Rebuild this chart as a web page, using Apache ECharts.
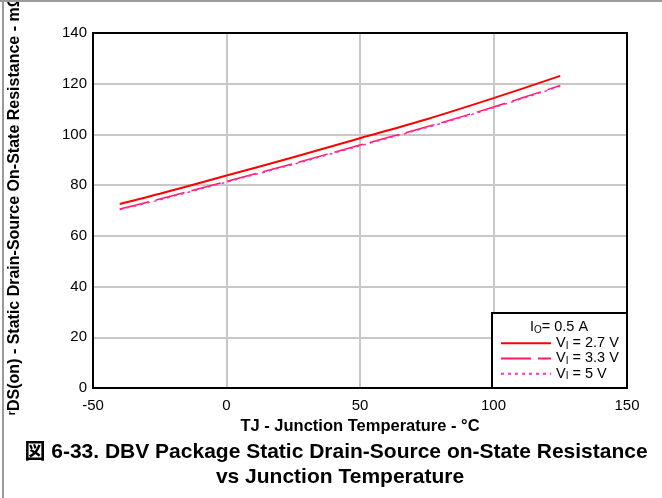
<!DOCTYPE html>
<html>
<head>
<meta charset="utf-8">
<script src="https://cdn.jsdelivr.net/npm/echarts@6/dist/echarts.min.js"></script>
<style>
html,body{margin:0;padding:0;background:#fff;}
#chart{width:662px;height:498px;}
</style>
</head>
<body>
<div id="chart"></div>
<script>
// Data
const temps = [-40, -25, 0, 25, 50, 75, 100, 125];
const vi27 = [72.6, 76.6, 83.8, 91.0, 98.5, 106.0, 114.3, 123.1];
const vi33 = [70.6, 74.5, 81.5, 88.5, 95.8, 103.0, 110.8, 119.3];
const vi5  = [70.3, 74.2, 81.2, 88.2, 95.5, 102.7, 110.5, 119.0];
const seriesNames = ['VI = 2.7 V', 'VI = 3.3 V', 'VI = 5 V'];
const xTicks = [-50, 0, 50, 100, 150];
const yTicks = [0, 20, 40, 60, 80, 100, 120, 140];

const FONT = '"Liberation Sans", Arial, "Noto Sans CJK JP", sans-serif';
const pairs = (ys) => temps.map((t, i) => [t, ys[i]]);

const chart = echarts.init(document.getElementById('chart'), null, {renderer: 'canvas'});

const legendRich = {
  n: {fontSize: 14.5, fontFamily: FONT, color: '#000'},
  s: {fontSize: 10, fontFamily: FONT, color: '#000', padding: [6, 0, 0, 0]}
};

chart.setOption({
  animation: false,
  backgroundColor: '#fff',
  textStyle: {fontFamily: FONT},
  grid: {left: 93, right: 35, top: 33, bottom: 110, show: false},
  xAxis: {
    type: 'value', min: xTicks[0], max: xTicks[xTicks.length - 1], interval: 50,
    axisLine: {show: true, onZero: false, lineStyle: {color: '#000', width: 2}},
    axisTick: {show: false},
    axisLabel: {color: '#000', fontSize: 15, fontFamily: FONT, margin: 10},
    splitLine: {show: true, lineStyle: {color: '#c8c8c8', width: 2}},
    name: 'TJ - Junction Temperature - °C', nameLocation: 'middle', nameGap: 25,
    nameTextStyle: {color: '#000', fontSize: 16.5, fontWeight: 'bold', fontFamily: FONT, verticalAlign: 'middle'}
  },
  yAxis: {
    type: 'value', min: yTicks[0], max: yTicks[yTicks.length - 1], interval: 20,
    axisLine: {show: true, onZero: false, lineStyle: {color: '#000', width: 2}},
    axisTick: {show: false},
    axisLabel: {color: '#000', fontSize: 15, fontFamily: FONT, margin: 6},
    splitLine: {show: true, lineStyle: {color: '#c8c8c8', width: 2}}
  },
  legend: {
    orient: 'vertical', left: 500, top: 336, itemWidth: 50, itemHeight: 14.5, itemGap: 0,
    padding: 0, z: 20,
    itemStyle: {opacity: 0},
    data: seriesNames,
    formatter: (name) => {
      const m = name.match(/^V(I)(.*)$/);
      return '{n|V}{s|I}{n|' + m[2] + '}';
    },
    textStyle: {rich: legendRich}
  },
  graphic: [
    {type: 'line', shape: {x1: 0, y1: 1, x2: 662, y2: 1}, style: {stroke: '#9a9a9a', lineWidth: 2}, z: 100},
    {type: 'line', shape: {x1: 3, y1: 0, x2: 3, y2: 498}, style: {stroke: '#9a9a9a', lineWidth: 2}, z: 100},
    {type: 'rect', shape: {x: 93, y: 33, width: 534, height: 355}, style: {fill: 'none', stroke: '#000', lineWidth: 2}, z: 3},
    {type: 'rect', shape: {x: 492, y: 313, width: 135, height: 75}, style: {fill: '#fff', stroke: '#000', lineWidth: 2}, z: 10},
    {type: 'text', x: 559, y: 327, z: 21, style: {
      text: '{n|I}{s|O}{n|= 0.5 A}', rich: legendRich, textAlign: 'center', textVerticalAlign: 'middle'}},
    {type: 'text', x: 15, y: 415, rotation: Math.PI / 2, z: 21, style: {
      text: 'ʳDS(on) - Static Drain-Source On-State Resistance - mΩ', font: 'bold 16px ' + FONT,
      fill: '#000', textAlign: 'left', textVerticalAlign: 'middle'}},
    {type: 'text', x: 336, y: 452, z: 21, style: {
      text: '図 6-33. DBV Package Static Drain-Source on-State Resistance', font: 'bold 21px ' + FONT,
      fill: '#000', textAlign: 'center', textVerticalAlign: 'middle'}},
    {type: 'text', x: 340, y: 477, z: 21, style: {
      text: 'vs Junction Temperature', font: 'bold 21px ' + FONT,
      fill: '#000', textAlign: 'center', textVerticalAlign: 'middle'}}
  ],
  series: [
    {name: seriesNames[0], type: 'line', data: pairs(vi27), symbol: 'none', smooth: 0.3, z: 5,
     lineStyle: {color: '#ff0000', width: 2, type: 'solid'}, itemStyle: {color: '#ff0000'}},
    {name: seriesNames[1], type: 'line', data: pairs(vi33), symbol: 'none', smooth: 0.3, z: 4,
     lineStyle: {color: '#ff1a5e', width: 1.5, type: [30, 7]}, itemStyle: {color: '#ff1a5e'}},
    {name: seriesNames[2], type: 'line', data: pairs(vi5), symbol: 'none', smooth: 0.3, z: 6,
     lineStyle: {color: '#ff33bb', width: 1.5, type: [3, 4]}, itemStyle: {color: '#ff33bb'}}
  ]
});
</script>
</body>
</html>
